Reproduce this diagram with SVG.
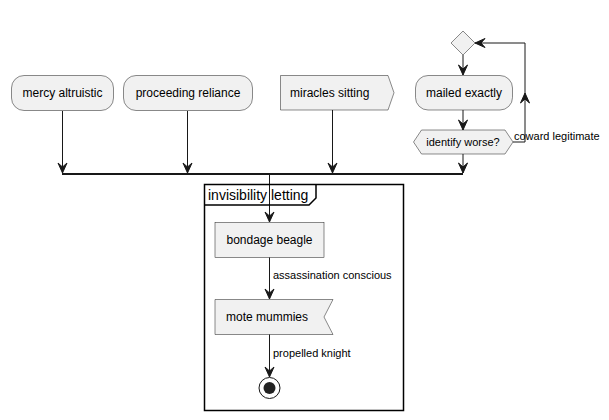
<svg xmlns="http://www.w3.org/2000/svg" width="609" height="420" viewBox="0 0 609 420">
<style>
.n{fill:#F1F1F1;stroke:#181818;stroke-width:0.5}
.t{font-family:"Liberation Sans",Arial,sans-serif;font-size:12px;fill:#000}
.l{font-family:"Liberation Sans",Arial,sans-serif;font-size:11px;fill:#000}
.e{fill:none;stroke:#181818;stroke-width:1}
.h{fill:#181818;stroke:#181818;stroke-width:1}
</style>
<rect width="609" height="420" fill="#FFFFFF"/>
<g id="connectors">
<rect x="62" y="173" width="401" height="2" fill="#181818"/>
<line class="e" x1="62.5" y1="111" x2="62.5" y2="173"/>
<polygon class="h" points="58,163 62.5,173 67,163 62.5,167"/>
<line class="e" x1="187.5" y1="111" x2="187.5" y2="173"/>
<polygon class="h" points="183,163 187.5,173 192,163 187.5,167"/>
<line class="e" x1="332.5" y1="110" x2="332.5" y2="173"/>
<polygon class="h" points="328,163 332.5,173 337,163 332.5,167"/>
<line class="e" x1="463" y1="55" x2="463" y2="75"/>
<polygon class="h" points="458.5,65 463,75 467.5,65 463,69"/>
<line class="e" x1="463" y1="110" x2="463" y2="130"/>
<polygon class="h" points="458.5,120 463,130 467.5,120 463,124"/>
<line class="e" x1="463" y1="154" x2="463" y2="173"/>
<polygon class="h" points="458.5,163 463,173 467.5,163 463,167"/>
<polyline class="e" points="513,142 525,142 525,43 475,43"/>
<polygon class="h" points="520.5,103 525,93 529.5,103 525,99"/>
<polygon class="h" points="485,38.5 475,43 485,47.5 481,43"/>
<text class="l" x="514" y="140">coward legitimate</text>
<line class="e" x1="269.5" y1="175" x2="269.5" y2="222"/>
<polygon class="h" points="265,212 269.5,222 274,212 269.5,216"/>
<line class="e" x1="269.5" y1="257" x2="269.5" y2="299"/>
<polygon class="h" points="265,289 269.5,299 274,289 269.5,293"/>
<text class="l" x="273" y="279">assassination conscious</text>
<line class="e" x1="269.5" y1="334" x2="269.5" y2="377"/>
<polygon class="h" points="265,367 269.5,377 274,367 269.5,371"/>
<text class="l" x="273" y="357">propelled knight</text>
</g>
<g id="frame">
<rect x="204.5" y="184.5" width="199" height="226" fill="none" stroke="#000" stroke-width="1.5"/>
<path d="M204.5,205 L309,205 L316,198 L316,184.5" fill="none" stroke="#000" stroke-width="1.5"/>
<text x="208" y="200" font-family="Liberation Sans,Arial,sans-serif" font-size="14" fill="#000">invisibility letting</text>
</g>
<g id="mercy">
<rect class="n" x="11.5" y="75.5" width="102" height="35" rx="12.5"/>
<text class="t" x="62.5" y="97" text-anchor="middle">mercy altruistic</text>
</g>
<g id="proceeding">
<rect class="n" x="123.5" y="75.5" width="129" height="35" rx="12.5"/>
<text class="t" x="188" y="97" text-anchor="middle">proceeding reliance</text>
</g>
<g id="miracles">
<polygon class="n" points="280.5,75.5 388,75.5 394,92.75 388,110 280.5,110"/>
<text class="t" x="290" y="97">miracles sitting</text>
</g>
<g id="merge">
<polygon class="n" points="463,31 475,43 463,55 451,43"/>
</g>
<g id="mailed">
<rect class="n" x="415.5" y="75.5" width="97" height="34.5" rx="12.5"/>
<text class="t" x="464" y="97" text-anchor="middle">mailed exactly</text>
</g>
<g id="identify">
<polygon class="n" points="413.5,142 421.5,130 505,130 513,142 505,154 421.5,154"/>
<text class="l" x="463" y="146" text-anchor="middle">identify worse?</text>
</g>
<g id="bondage">
<rect class="n" x="215" y="222.5" width="109" height="35"/>
<text class="t" x="269.5" y="244" text-anchor="middle">bondage beagle</text>
</g>
<g id="mote">
<polygon class="n" points="215,299.5 333,299.5 324,317 333,334.5 215,334.5"/>
<text class="t" x="226" y="321">mote mummies</text>
</g>
<g id="end">
<circle cx="269.5" cy="388" r="10.5" fill="none" stroke="#181818" stroke-width="1"/>
<circle cx="269.5" cy="388" r="6" fill="#222222"/>
</g>
</svg>
